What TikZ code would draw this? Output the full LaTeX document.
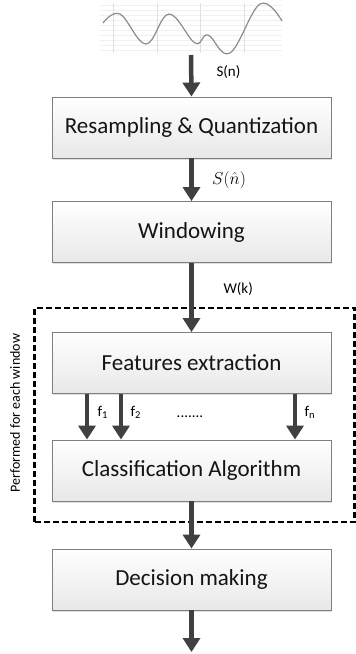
\documentclass[tikz,border=0pt]{standalone}
\usepackage{fontspec}
\setmainfont{Carlito}
\usetikzlibrary{arrows.meta,shadows}
\definecolor{arrgray}{HTML}{404040}
\definecolor{boxedge}{HTML}{7F7F7F}
\tikzset{
  blockbox/.style={draw=boxedge, line width=0.9pt, top color=white, bottom color=black!9,
    minimum width=279pt, minimum height=61pt, inner sep=0pt,
    font=\fontsize{23}{27}\selectfont, text=black!92,
    drop shadow={shadow xshift=1pt, shadow yshift=-1.5pt, fill=black, opacity=0.12}},
  flowarrow/.style={draw=arrgray, line width=4.5pt, -{Triangle[width=17pt,length=14pt]}},
  siglabel/.style={font=\fontsize{15}{18}\selectfont, anchor=west},
  gridh/.style={draw=black!6, line width=0.6pt},
  gridv/.style={draw=black!12, line width=0.6pt},
  loopbox/.style={draw=black, line width=2.6pt, dash pattern=on 6pt off 3pt}
}
\begin{document}
\begin{tikzpicture}[x=1pt,y=-1pt]
\useasboundingbox (0,0) rectangle (356,654);
% signal grid
\foreach \yy in {5,10,...,50} \draw[gridh] (100,\yy) -- (282,\yy);
\foreach \xx in {113,157,200,244} \draw[gridv] (\xx,3) -- (\xx,53);
% signal
\draw[black!45, line width=1.2pt] plot[smooth, tension=0.65] coordinates
  {(103,23) (120,14) (146,44) (169,14) (195,43) (208,35) (230,53) (260,4) (282,21)};
\coordinate (wave) at (191,55);
% blocks
\node[blockbox] (res) at (191.5,127.5) {Resampling \& Quantization};
\node[blockbox] (win) at (191.5,232) {Windowing};
\node[blockbox] (fe)  at (191.5,363) {Features extraction};
\node[blockbox] (ca)  at (191.5,470.5) {Classification Algorithm};
\node[blockbox] (dm)  at (191.5,579.5) {Decision making};
\coordinate (out) at (191.5,652);
% dashed loop box
\node[loopbox, minimum width=320pt, minimum height=214pt] (loop) at (194.5,415) {};
\node[rotate=90, font=\fontsize{14}{16}\selectfont] (looplbl) at (15,413) {Performed for each window};
% arrows
\draw[flowarrow] (wave) -- (res.north);
\node[siglabel] (sn) at (213,72) {S(n)};
\draw[flowarrow] (res.south) -- (win.north);
\node[anchor=west, inner sep=1pt, font=\fontsize{17}{20}\selectfont] (snh) at (211,180) {$S(\hat{n})$};
\draw[flowarrow] (win.south) -- (fe.north);
\node[siglabel] (wk) at (220,289) {W(k)};
\draw[flowarrow] (fe.south -| 87,0) -- (ca.north -| 87,0);
\draw[flowarrow] (fe.south -| 121,0) -- (ca.north -| 121,0);
\draw[flowarrow] (fe.south -| 295,0) -- (ca.north -| 295,0);
\node[siglabel] (f1) at (94,412) {f\textsubscript{1}};
\node[siglabel] (f2) at (127,412) {f\textsubscript{2}};
\node[siglabel] (fn) at (301,412) {f\textsubscript{n}};
\node[font=\fontsize{15}{18}\selectfont] (dots) at (190,417) {.......};
\draw[flowarrow] (ca.south) -- (dm.north);
\draw[flowarrow] (dm.south) -- (out);
\end{tikzpicture}
\end{document}
